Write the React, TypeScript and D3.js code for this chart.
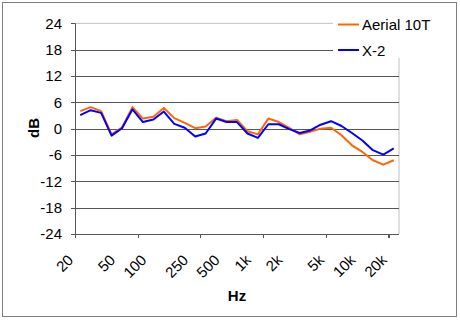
import React from "react";
import * as d3 from "d3";

const categories = ["20","25","31.5","40","50","63","80","100","125","160","200","250","315","400","500","630","800","1k","1.25k","1.6k","2k","2.5k","3.15k","4k","5k","6.3k","8k","10k","12.5k","16k","20k"];
const shownLabels = ["20","50","100","250","500","1k","2k","5k","10k","20k"];
const aerial10T = [4.0,4.9,4.0,-1.3,0.3,4.9,2.3,2.7,4.7,2.4,1.3,0.1,0.5,2.5,1.7,2.0,-0.6,-1.3,2.3,1.5,0.2,-1.3,-0.7,0.0,0.2,-1.5,-3.8,-5.3,-7.2,-8.2,-7.2];
const x2 = [3.1,4.2,3.6,-1.6,0.1,4.4,1.5,2.1,3.9,1.1,0.2,-1.8,-1.1,2.3,1.5,1.5,-1.1,-2.1,1.0,1.0,-0.1,-1.0,-0.4,0.9,1.7,0.6,-1.0,-2.7,-4.9,-5.9,-4.5];
const yTicks = [24,18,12,6,0,-6,-12,-18,-24];
const seriesNames = ["Aerial 10T","X-2"];
const seriesColors = ["#FF6600","#0000FF"];

export default function App() {
  const W = 460, H = 320;
  const left = 75, right = 399, top = 23.3, bottom = 234;
  const x = d3.scaleBand<string>().domain(categories).range([left, right]);
  const y = d3.scaleLinear().domain([-24, 24]).range([bottom, top]);
  const cx = (c: string) => (x(c) as number) + x.bandwidth() / 2;
  const line = d3.line<number>().x((_, i) => cx(categories[i])).y(d => y(d));
  const font = "'Liberation Sans', Arial, sans-serif";
  const tickCats = categories.filter((_, i) => i % 6 === 0);
  const series = [aerial10T, x2];
  return (
    <svg width={W} height={H} style={{ position: "absolute", left: 0, top: 0 }} fontFamily={font}>
      <rect x={0} y={0} width={W} height={H} fill="#fff" />
      <rect x={2.5} y={2.5} width={454} height={314} fill="#fff" stroke="#808080" strokeWidth={1} />
      {/* plot border */}
      <line x1={left} x2={right} y1={top} y2={top} stroke="#c0c0c0" />
      <line x1={right} x2={right} y1={top} y2={bottom} stroke="#c0c0c0" />
      {yTicks.map(t => (
        <g key={t}>
          {t !== 24 && t !== -24 && (
            <line x1={left} x2={right} y1={Math.round(y(t)) + 0.5} y2={Math.round(y(t)) + 0.5} stroke="#555" />
          )}
          <line x1={left - 4} x2={left} y1={Math.round(y(t)) + 0.5} y2={Math.round(y(t)) + 0.5} stroke="#555" />
          <text x={62} y={y(t)} dy="0.35em" textAnchor="end" fontSize={15} fill="#000">{t}</text>
        </g>
      ))}
      <line x1={left + 0.5} x2={left + 0.5} y1={top} y2={bottom} stroke="#555" />
      <line x1={left} x2={right} y1={bottom + 0.5} y2={bottom + 0.5} stroke="#555" />
      {tickCats.map(c => {
        const xv = Math.round(x(c) as number) + 0.5;
        return <line key={c} x1={xv} x2={xv} y1={bottom} y2={bottom + 4} stroke="#555" />;
      })}
      <line x1={right - 10.5} x2={right - 10.5} y1={bottom} y2={bottom + 4} stroke="#555" />
      {categories.map(c => shownLabels.includes(c) ? (
        <text key={c} transform={`translate(${cx(c) - 6},${261}) rotate(-45)`} textAnchor="end" fontSize={15} fill="#000">{c}</text>
      ) : null)}
      {series.map((s, k) => (
        <path key={k} d={line(s) || ""} fill="none" stroke={seriesColors[k]} strokeWidth={2} strokeLinejoin="round" />
      ))}
      {/* legend */}
      <rect x={333} y={8} width={122} height={50} fill="#fff" />
      {seriesNames.map((n, k) => (
        <g key={n}>
          <line x1={338} x2={359} y1={24.5 + k * 25.5} y2={24.5 + k * 25.5} stroke={seriesColors[k]} strokeWidth={2} />
          <text x={362} y={30 + k * 25.5} fontSize={15} fill="#000">{n}</text>
        </g>
      ))}
      <text transform={`translate(39,128) rotate(-90)`} textAnchor="middle" fontSize={15} fontWeight="bold">dB</text>
      <text x={237} y={300.5} textAnchor="middle" fontSize={15} fontWeight="bold">Hz</text>
    </svg>
  );
}
